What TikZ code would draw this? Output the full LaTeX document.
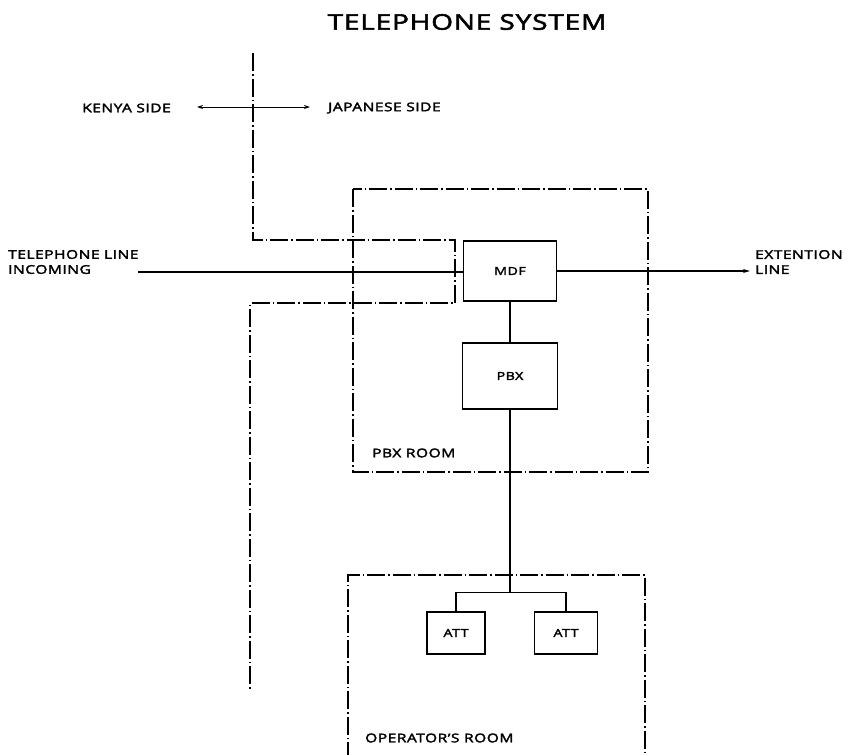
\documentclass[tikz,border=0pt]{standalone}
\usepackage{fontspec}
\setmainfont{Open Sans}[FakeStretch=1.3,LetterSpace=4,FakeBold=2.6]
\usetikzlibrary{arrows.meta, positioning}

\tikzset{
    wall/.style={line width=1.3pt, dash pattern=on 18pt off 3pt on 1.5pt off 3pt},
    unit/.style={draw, line width=1.2pt, minimum width=#1, minimum height=42pt, inner sep=0pt, font=\fontsize{11}{13}\selectfont},
    lbl/.style={font=\fontsize{12}{15}\selectfont, inner sep=0pt},
    wire/.style={line width=1.2pt}
}

\begin{document}
\begin{tikzpicture}[x=1pt, y=-1pt]
    \useasboundingbox (0,0) rectangle (849,755);

    \node[font=\fontsize{21.5}{24}\selectfont] (title) at (467,22) {TELEPHONE SYSTEM};

    % kenya / japan boundary
    \node[lbl, anchor=east] (kenya) at (171,108) {KENYA SIDE};
    \node[lbl, anchor=west] (japan) at (328,108) {JAPANESE SIDE};
    \coordinate (kL) at (197,107);
    \coordinate (kR) at (310,107);
    \draw[wire, line width=1pt, {Stealth[length=6pt,width=4pt]}-{Stealth[length=6pt,width=4pt]}] (kL) -- (kR);

    \draw[wall] (253,53) -- (253,240) -- (455,240) -- (455,303) -- (250,303) -- (250,690);

    % rooms
    \draw[wall] (353,189) rectangle (648,472);
    \node[lbl, anchor=west] (pbxroom) at (372,453) {PBX ROOM};
    \draw[wall] (348,760) -- (348,575) -- (645,575) -- (645,760);
    \node[lbl, anchor=west] (oproom) at (365,738) {OPERATOR'S ROOM};

    % equipment
    \node[unit=93pt, minimum height=60pt] (mdf) at (510,271) {MDF};
    \node[unit=95pt, minimum height=66pt] (pbx) at (510,376) {PBX};
    \node[unit=58pt] (att1) at (456,633) {ATT};
    \node[unit=63pt] (att2) at (566,633) {ATT};

    % lines
    \node[lbl, anchor=west, align=left] (incoming) at (8,262) {TELEPHONE LINE\\INCOMING};
    \coordinate (lineIn) at (138,272);
    \draw[wire] (lineIn) -- (lineIn -| mdf.west);
    \node[lbl, anchor=west, align=left] (extension) at (755,262) {EXTENTION\\LINE};
    \coordinate (lineOut) at (750,271);
    \draw[wire, -{Stealth[length=7pt,width=4pt]}] (mdf.east) -- (lineOut);

    \draw[wire] (mdf.south) -- (pbx.north);
    \coordinate (branch) at (510,593);
    \draw[wire] (pbx.south) -- (branch);
    \draw[wire] (att1.north) -- ++(0,-19) -| (att2.north);
\end{tikzpicture}
\end{document}
